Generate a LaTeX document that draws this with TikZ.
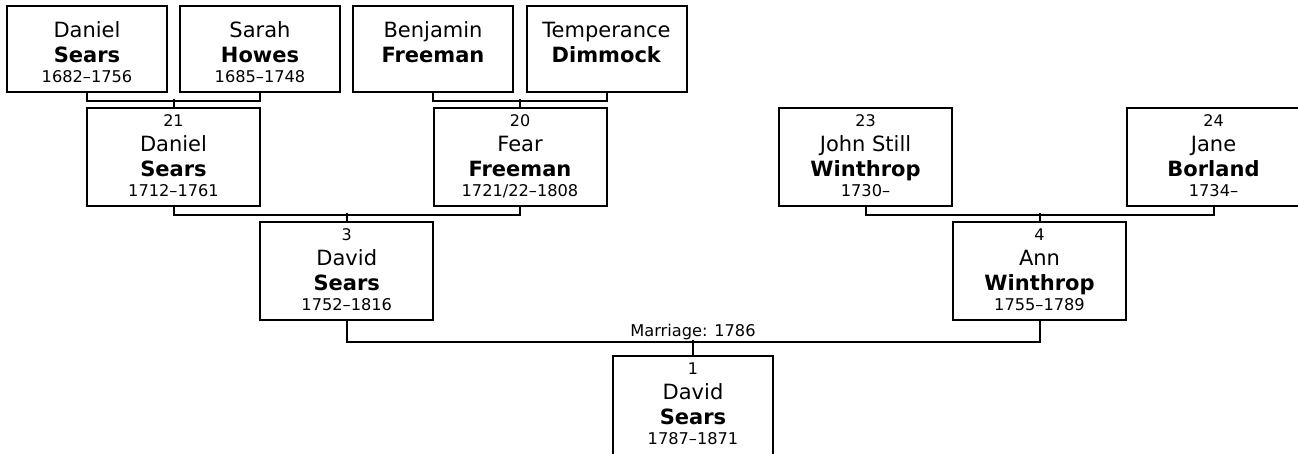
\documentclass[tikz,border=0pt]{standalone}
\usepackage{fontspec}
\setmainfont{DejaVu Sans}
\newcommand{\pnum}{\fontsize{16}{18}\selectfont}
\newcommand{\pdates}{\fontsize{16.2}{19}\selectfont}
\begin{document}
\begin{tikzpicture}[x=1pt,y=1pt,
	person/.style={draw,line width=2pt,fill=white,inner sep=0pt,minimum width=173pt,minimum height=98pt,text height=18pt,text depth=80pt,font=\fontsize{21}{25}\selectfont},
	elder/.style={person,minimum width=160pt,minimum height=86pt,text height=31pt,text depth=55pt},
	link/.style={line width=2pt}]
	\useasboundingbox (0,0) rectangle (1298,-453);

	\node[elder] (ds) at (87,-49){\begin{tabular}[t]{c}Daniel\\\textbf{Sears}\\[-5pt]\pdates 1682--1756\end{tabular}};
	\node[elder] (sh) at (260,-49){\begin{tabular}[t]{c}Sarah\\\textbf{Howes}\\[-5pt]\pdates 1685--1748\end{tabular}};
	\node[elder] (bf) at (433,-49){\begin{tabular}[t]{c}Benjamin\\\textbf{Freeman}\end{tabular}};
	\node[elder] (td) at (606.5,-49){\begin{tabular}[t]{c}Temperance\\\textbf{Dimmock}\end{tabular}};

	\node[person] (p21) at (173.5,-157){\begin{tabular}[t]{c}\pnum 21\\Daniel\\\textbf{Sears}\\[-5pt]\pdates 1712--1761\end{tabular}};
	\node[person] (p20) at (520,-157){\begin{tabular}[t]{c}\pnum 20\\Fear\\\textbf{Freeman}\\[-5pt]\pdates 1721/22--1808\end{tabular}};
	\node[person] (p23) at (865.5,-157){\begin{tabular}[t]{c}\pnum 23\\John Still\\\textbf{Winthrop}\\[-5pt]\pdates 1730--\end{tabular}};
	\node[person] (p24) at (1213.5,-157){\begin{tabular}[t]{c}\pnum 24\\Jane\\\textbf{Borland}\\[-5pt]\pdates 1734--\end{tabular}};

	\node[person] (p3) at (346.75,-271){\begin{tabular}[t]{c}\pnum 3\\David\\\textbf{Sears}\\[-5pt]\pdates 1752--1816\end{tabular}};
	\node[person] (p4) at (1039.5,-271){\begin{tabular}[t]{c}\pnum 4\\Ann\\\textbf{Winthrop}\\[-5pt]\pdates 1755--1789\end{tabular}};

	\node[person,minimum width=160pt,minimum height=104pt,text depth=86pt] (p1) at (693,-408){\begin{tabular}[t]{c}\pnum 1\\David\\\textbf{Sears}\\[-5pt]\pdates 1787--1871\end{tabular}};

	\draw[link] (ds.south) -- ++(0,-8) -| (sh.south);
	\draw[link] (p21.north) -- ++(0,8);
	\draw[link] (bf.south) -- ++(0,-8) -| (td.south);
	\draw[link] (p20.north) -- ++(0,8);

	\draw[link] (p21.south) -- ++(0,-8) -| (p20.south);
	\draw[link] (p3.north) -- ++(0,8);
	\draw[link] (p23.south) -- ++(0,-8) -| (p24.south);
	\draw[link] (p4.north) -- ++(0,8);

	\draw[link] (p3.south) -- ++(0,-21) -| (p4.south);
	\draw[link] (p1.north) -- ++(0,15);
	\node[anchor=base,font=\pdates] (wed) at (693,-336){Marriage: 1786};
\end{tikzpicture}
\end{document}
